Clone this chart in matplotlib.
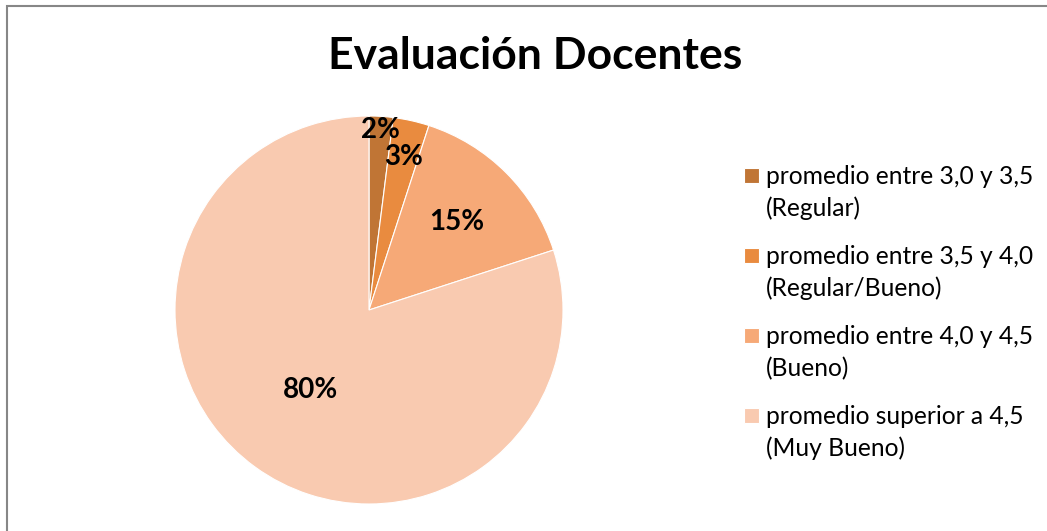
import numpy as np
import matplotlib.pyplot as plt
from matplotlib.patches import Rectangle
from matplotlib.legend_handler import HandlerPatch

# datos
categorias = [
    "promedio entre 3,0 y 3,5\n(Regular)",
    "promedio entre 3,5 y 4,0\n(Regular/Bueno)",
    "promedio entre 4,0 y 4,5\n(Bueno)",
    "promedio superior a 4,5\n(Muy Bueno)",
]
porcentajes = [2, 3, 15, 80]
colores = ["#C07535", "#E98B3F", "#F6A977", "#F9CAB0"]
dist_etiquetas = [0.93, 0.81, 0.64, 0.51]

plt.rcParams["font.family"] = ["Lato", "DejaVu Sans"]

W, H = 1047, 531
fig = plt.figure(figsize=(W / 100, H / 100), dpi=100)

# borde del gráfico
fig.patches.append(Rectangle((6.5 / W, -0.1), 1.2, (H - 5.5) / H + 0.1,
                             transform=fig.transFigure, fill=False,
                             edgecolor="#878787", linewidth=1.5))

# ejes del pastel: centro (369, 310), radio 194 px
cx, cy, r = 369, 310, 194
ax = fig.add_axes([(cx - r) / W, (H - cy - r) / H, 2 * r / W, 2 * r / H])
wedges, _ = ax.pie(porcentajes, colors=colores, startangle=90,
                   counterclock=False, radius=1,
                   wedgeprops=dict(linewidth=0.8, edgecolor="white"))
ax.set_xlim(-1, 1)
ax.set_ylim(-1, 1)
ax.set_aspect("equal")

for w, p, d in zip(wedges, porcentajes, dist_etiquetas):
    ang = np.deg2rad((w.theta1 + w.theta2) / 2)
    ax.text(d * np.cos(ang), d * np.sin(ang), f"{p}%", ha="center",
            va="center", fontsize=20, fontweight="bold", color="black")

fig.text(535 / W, 1 - 56 / H, "Evaluación Docentes", ha="center",
         va="center", fontsize=32, fontweight="bold")

interlineado = 1.45


# cuadrito alineado con la primera línea de la etiqueta
def cuadro(legend, orig_handle, xdescent, ydescent, width, height, fontsize):
    lado = 0.6 * fontsize
    return Rectangle((-xdescent,
                      -ydescent + height / 2 - lado / 2 + 0.5 * interlineado * fontsize),
                     lado, lado)


leg = fig.legend(wedges, categorias, loc="upper left",
                 bbox_to_anchor=(744 / W, 1 - 165 / H), frameon=False,
                 borderpad=0, borderaxespad=0,
                 fontsize=17.7, handlelength=0.6, handleheight=0.6,
                 handletextpad=0.3, labelspacing=1.0,
                 handler_map={w: HandlerPatch(patch_func=cuadro) for w in wedges})
for t in leg.get_texts():
    t.set_linespacing(interlineado)

fig.savefig("out.png", dpi=100)
